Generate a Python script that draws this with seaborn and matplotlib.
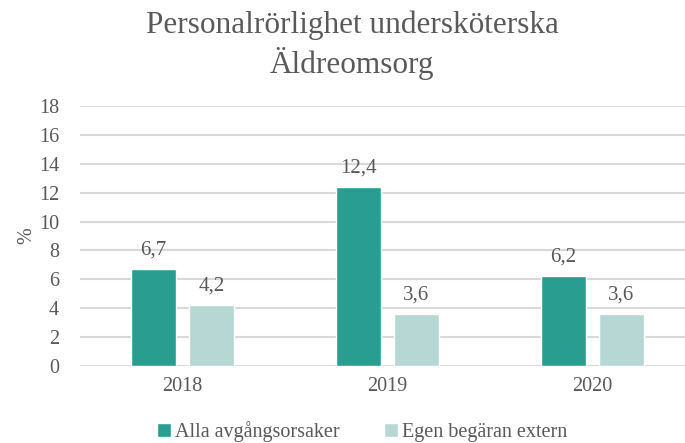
import pandas as pd
import matplotlib.pyplot as plt
import seaborn as sns

years = ['2018', '2019', '2020']
alla = [6.7, 12.4, 6.2]
egen = [4.2, 3.6, 3.6]
series_names = ['Alla avgångsorsaker', 'Egen begäran extern']
colors = ['#2A9D91', '#B6D7D4']

df = pd.DataFrame({
    'år': years * 2,
    'värde': alla + egen,
    'serie': [series_names[0]] * 3 + [series_names[1]] * 3,
})

sns.set_style('white')
plt.rcParams['font.family'] = ['Liberation Serif', 'DejaVu Serif']
text_col = '#595959'

fig = plt.figure(figsize=(6.85, 4.43), dpi=100)
ax = fig.add_axes([80 / 685, 77 / 443, 615 / 685, 260 / 443])

sns.barplot(data=df, x='år', y='värde', hue='serie', palette=colors,
            width=0.566, gap=0.21, ax=ax, saturation=1, legend=True)

for cont in ax.containers:
    ax.bar_label(cont, labels=[f'{v:.1f}'.replace('.', ',') for v in cont.datavalues],
                 padding=7, fontsize=15, color=text_col)

ax.set_ylim(0, 18)
ax.set_yticks(range(0, 19, 2))
ax.set_xlim(-0.5, 2.5)
ax.yaxis.grid(True, color='#D9D9D9', linewidth=1.5)
ax.set_axisbelow(True)
for s in ax.spines.values():
    s.set_visible(False)
ax.tick_params(axis='both', length=0, labelsize=14.5, labelcolor=text_col)
ax.tick_params(axis='x', pad=8)
ax.tick_params(axis='y', pad=15)
ax.set_xlabel('')
ax.set_ylabel('%', fontsize=14.5, color=text_col, labelpad=2)

ax.legend(loc='center', bbox_to_anchor=(362 / 685, 11 / 443),
          bbox_transform=fig.transFigure, ncol=2, frameon=False,
          fontsize=14.5, handlelength=0.7, handleheight=0.7, handletextpad=0.2,
          columnspacing=2.2, labelcolor=text_col)

fig.text(352 / 685, 1 - 10 / 443, 'Personalrörlighet undersköterska\nÄldreomsorg',
         ha='center', va='top', fontsize=22.5, color=text_col, linespacing=1.3)

fig.savefig('out.png', dpi=100)
